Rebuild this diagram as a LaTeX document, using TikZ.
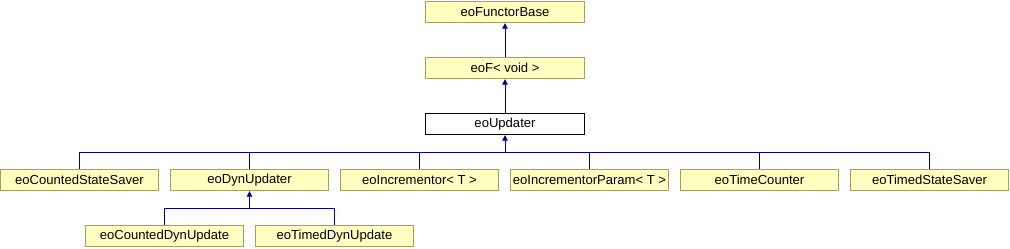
\documentclass[tikz,border=0pt]{standalone}
\usepackage{fontspec}
\setmainfont{Liberation Sans}
\usetikzlibrary{arrows.meta}
\definecolor{boxfill}{RGB}{255,255,192}
\definecolor{boxedge}{RGB}{160,160,96}
\definecolor{inhcolor}{RGB}{0,0,150}
\tikzset{
  classbox/.style={draw=boxedge, fill=boxfill, line width=0.75pt,
    minimum width=119pt, minimum height=16pt, inner sep=0pt,
    font=\fontsize{9.8}{11}\selectfont},
  curbox/.style={classbox, draw=black, fill=white},
  busln/.style={line width=0.75pt, draw=inhcolor},
  inhln/.style={busln, -{Triangle[length=4pt,width=4pt]}},
}
\begin{document}
\begin{tikzpicture}[x=0.75pt, y=-0.75pt]
    \useasboundingbox (0,0) rectangle (1010,248);
    \node[classbox] (base) at (505,12) {eoFunctorBase};
    \node[classbox] (eof) at (505,68) {eoF< void >};
    \node[curbox] (upd) at (505,124) {eoUpdater};
    \draw[inhln] (eof.north) -- (base.south);
    \draw[inhln] (upd.north) -- (eof.south);
    % subclasses of eoUpdater
    \coordinate (hub) at (505,152);
    \foreach \i/\x/\lab in {1/79.5/eoCountedStateSaver, 2/249.5/eoDynUpdater,
      3/419.5/{eoIncrementor< T >}, 4/589.5/{eoIncrementorParam< T >},
      5/759.5/eoTimeCounter, 6/929.5/eoTimedStateSaver} {
      \node[classbox] (kid\i) at (\x,180) {\lab};
      \draw[busln] (kid\i.north) -- (kid\i.north |- hub);
    }
    \draw[busln] (kid1.north |- hub) -- (kid6.north |- hub);
    \draw[inhln] (hub) -- (upd.south);
    % subclasses of eoDynUpdater
    \coordinate (dynhub) at (249.5,208);
    \foreach \i/\x/\lab in {1/164.5/eoCountedDynUpdate, 2/334.5/eoTimedDynUpdate} {
      \node[classbox] (dyn\i) at (\x,236) {\lab};
      \draw[busln] (dyn\i.north) -- (dyn\i.north |- dynhub);
    }
    \draw[busln] (dyn1.north |- dynhub) -- (dyn2.north |- dynhub);
    \draw[inhln] (dynhub) -- (kid2.south);
\end{tikzpicture}
\end{document}
